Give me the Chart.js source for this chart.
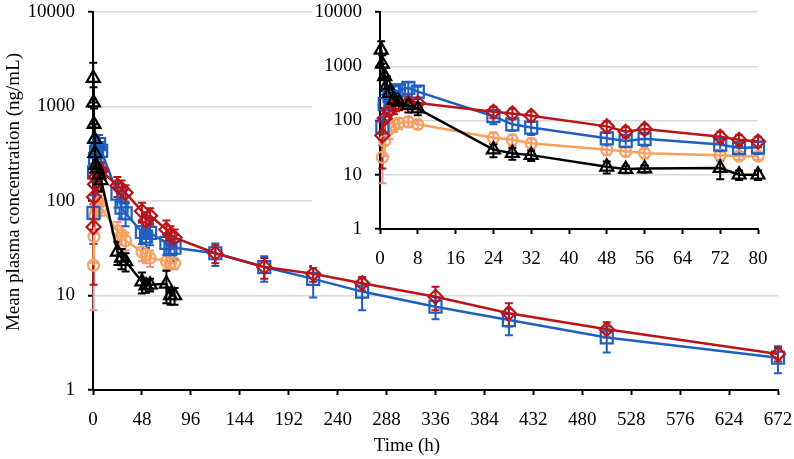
<!DOCTYPE html>
<html>
<head>
<meta charset="utf-8">
<script src="https://cdn.jsdelivr.net/npm/chart.js@4.4.1/dist/chart.umd.min.js"></script>
<style>
  html, body { margin: 0; padding: 0; background: #fff; }
  #wrap { position: relative; width: 794px; height: 459px; }
  #main { position: absolute; left: 0; top: 0; }
  #inset { position: absolute; left: 312px; top: 0; background: #fff; }
</style>
</head>
<body>
<div id="wrap">
  <canvas id="main" width="794" height="459"></canvas>
  <canvas id="inset" width="482" height="267"></canvas>
</div>
<script>
// sampling times (h), mean concentrations (ng/mL) and SDs
const redTime  = [0.5, 1, 2, 3, 4, 6, 8, 24, 28, 32, 48, 52, 56, 72, 76, 80, 120, 168, 216, 264, 336, 408, 504, 672];
const redConc  = [53, 110, 150, 180, 200, 215, 210, 145, 135, 122, 78, 62, 70, 50, 44, 41, 28, 20, 17, 13.5, 9.7, 6.5, 4.4, 2.4];
const redSD    = [40, 60, 50, 50, 45, 40, 40, 35, 30, 25, 18, 14, 14, 12, 10, 9, 6, 5, 3, 2.2, 2.7, 1.8, 0.8, 0.4];

const blueTime = [0.5, 1, 2, 3, 4, 6, 8, 24, 28, 32, 48, 52, 56, 72, 76, 80, 120, 168, 216, 264, 336, 408, 504, 672];
const blueConc = [75, 200, 280, 330, 360, 400, 340, 120, 85, 74, 47, 42, 46, 36, 31, 32, 28, 20, 15, 11, 7.6, 5.5, 3.6, 2.2];
const blueSD   = [40, 100, 120, 120, 100, 100, 80, 35, 20, 20, 12, 10, 12, 9, 8, 8, 7.5, 6, 5.5, 4, 2, 1.7, 1.1, 0.7];

const orangeTime = [0.5, 1, 2, 3, 4, 6, 8, 24, 28, 32, 48, 52, 56, 72, 76, 80];
const orangeConc = [21, 42, 70, 82, 90, 95, 85, 48, 44, 38, 29, 27, 25, 23, 22, 22];
const orangeSD   = [14, 20, 25, 20, 20, 20, 15, 12, 10, 8, 6, 5, 5, 4, 3, 3];

const blackTime = [0.25, 0.5, 1, 1.5, 2, 3, 4, 6, 8, 24, 28, 32, 48, 52, 56, 72, 76, 80];
const blackConc = [2000, 1100, 650, 450, 320, 240, 220, 190, 165, 29, 25, 23, 14, 12.7, 13, 13.3, 10, 10];
const blackSD   = [900, 500, 300, 200, 100, 80, 60, 50, 40, 8, 6, 5, 3.5, 2, 2, 5, 2, 2];

const decadeTicks = [1, 10, 100, 1000, 10000];
const mainTimeMax = 672, mainTimeStep = 48;
const insetTimeMax = 80, insetTimeStep = 8;

const FONT = 'Liberation Serif';

function points(times, conc, sd, maxT) {
    return times.map((t, i) => ({ x: t, y: conc[i], sd: sd[i] })).filter(p => p.x <= maxT);
}

function makeDatasets(maxT) {
    const base = { tension: 0, borderWidth: 2.5, pointBorderWidth: 2.2, pointBackgroundColor: 'rgba(255,255,255,0)', clip: false };
    return [
        { ...base, label: 'black', data: points(blackTime, blackConc, blackSD, maxT),
          borderColor: '#000', pointBorderColor: '#000', pointStyle: 'triangle', pointRadius: 7.5, errorColor: '#000' },
        { ...base, label: 'red', data: points(redTime, redConc, redSD, maxT),
          borderColor: '#B8141A', pointBorderColor: '#B8141A', pointStyle: 'rectRot', pointRadius: 7, errorColor: '#B8141A' },
        { ...base, label: 'blue', data: points(blueTime, blueConc, blueSD, maxT),
          borderColor: '#1F5FBF', pointBorderColor: '#1F5FBF', pointStyle: 'rect', pointRadius: 8.5, errorColor: '#1F5FBF' },
        { ...base, label: 'orange', data: points(orangeTime, orangeConc, orangeSD, maxT),
          borderColor: '#F7A15A', pointBorderColor: '#F7A15A', pointStyle: 'circle', pointRadius: 5.5, errorColor: '#EE8E94' }
    ];
}

// error bars plugin
const errorBars = {
    id: 'errorBars',
    beforeDatasetsDraw(chart) {
        const { ctx, scales: { x, y } } = chart;
        const datasets = chart.data.datasets;
        for (let i = datasets.length - 1; i >= 0; i--) {
            const ds = datasets[i];
            ctx.save();
            ctx.strokeStyle = ds.errorColor;
            ctx.lineWidth = 2;
            ds.data.forEach(p => {
                const px = x.getPixelForValue(p.x);
                const hi = y.getPixelForValue(p.y + p.sd);
                const lo = y.getPixelForValue(Math.max(p.y - p.sd, 1));
                ctx.beginPath();
                ctx.moveTo(px, hi); ctx.lineTo(px, lo);
                ctx.moveTo(px - 4, hi); ctx.lineTo(px + 4, hi);
                ctx.moveTo(px - 4, lo); ctx.lineTo(px + 4, lo);
                ctx.stroke();
            });
            ctx.restore();
        }
    }
};

// axis titles for the main chart
const axisTitles = {
    id: 'axisTitles',
    afterDraw(chart) {
        const ctx = chart.ctx;
        ctx.save();
        ctx.fillStyle = '#000';
        ctx.font = '19px "' + FONT + '"';
        ctx.textAlign = 'center';
        ctx.textBaseline = 'middle';
        ctx.fillText('Time (h)', 407, 446);
        ctx.translate(14, 192);
        ctx.rotate(-Math.PI / 2);
        ctx.fillText('Mean plasma concentration (ng/mL)', 0, 0);
        ctx.restore();
    }
};

function scalesFor(maxT, step, yWidth, xHeight) {
    return {
        x: {
            type: 'linear', min: 0, max: maxT,
            ticks: { stepSize: step, color: '#000', font: { family: FONT, size: 19 }, padding: 14, maxRotation: 0 },
            grid: { drawOnChartArea: false, drawTicks: true, tickLength: 5, tickColor: '#000', tickWidth: 2 },
            border: { color: '#000', width: 2 },
            afterFit: s => { s.height = xHeight; s.paddingLeft = 0; s.paddingRight = 0; }
        },
        y: {
            type: 'logarithmic', min: 1, max: 10000,
            afterBuildTicks: s => { s.ticks = decadeTicks.map(v => ({ value: v })); },
            ticks: { color: '#000', font: { family: FONT, size: 19 }, padding: 13, callback: v => String(v) },
            grid: { color: '#D9D9D9', lineWidth: 1.5, tickLength: 5, tickColor: '#000', tickWidth: 2 },
            border: { color: '#000', width: 2 },
            afterFit: s => { s.width = yWidth; s.paddingTop = 0; s.paddingBottom = 0; }
        }
    };
}

const commonOptions = {
    responsive: false,
    animation: false,
    events: [],
    plugins: { legend: { display: false }, tooltip: { enabled: false } }
};

new Chart(document.getElementById('main'), {
    type: 'line',
    data: { datasets: makeDatasets(mainTimeMax) },
    options: {
        ...commonOptions,
        layout: { padding: { left: 0, right: 16, top: 12, bottom: 0 } },
        scales: scalesFor(mainTimeMax, mainTimeStep, 93, 69)
    },
    plugins: [errorBars, axisTitles]
});

new Chart(document.getElementById('inset'), {
    type: 'line',
    data: { datasets: makeDatasets(insetTimeMax) },
    options: {
        ...commonOptions,
        layout: { padding: { left: 0, right: 36, top: 12, bottom: 0 } },
        scales: scalesFor(insetTimeMax, insetTimeStep, 68, 38)
    },
    plugins: [errorBars]
});
</script>
</body>
</html>
